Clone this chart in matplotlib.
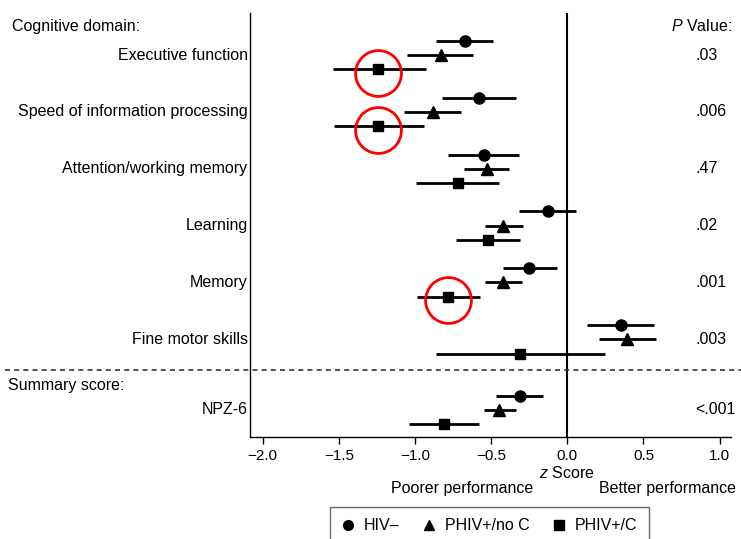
import numpy as np
import matplotlib.pyplot as plt
from matplotlib.lines import Line2D

plt.rcParams['font.family'] = ['Liberation Sans', 'DejaVu Sans']
plt.rcParams['mathtext.fontset'] = 'custom'
plt.rcParams['mathtext.it'] = 'Liberation Sans:italic'
plt.rcParams['mathtext.rm'] = 'Liberation Sans'

domains = ["Executive function", "Speed of information processing",
           "Attention/working memory", "Learning", "Memory",
           "Fine motor skills", "NPZ-6"]
p_values = [".03", ".006", ".47", ".02", ".001", ".003", "<.001"]

groups = ["HIV\u2013", "PHIV+/no C", "PHIV+/C"]
markers = ["o", "^", "s"]

hiv_neg = [-0.67, -0.58, -0.55, -0.13, -0.25, 0.35, -0.31]
hiv_neg_lo = [-0.86, -0.82, -0.78, -0.32, -0.42, 0.13, -0.47]
hiv_neg_hi = [-0.49, -0.335, -0.32, 0.06, -0.07, 0.57, -0.16]

phiv_noc = [-0.83, -0.88, -0.53, -0.42, -0.42, 0.39, -0.45]
phiv_noc_lo = [-1.05, -1.07, -0.68, -0.54, -0.54, 0.21, -0.55]
phiv_noc_hi = [-0.62, -0.70, -0.38, -0.29, -0.30, 0.58, -0.335]

phiv_c = [-1.24, -1.24, -0.72, -0.52, -0.78, -0.31, -0.81]
phiv_c_lo = [-1.54, -1.53, -0.99, -0.73, -0.985, -0.86, -1.04]
phiv_c_hi = [-0.93, -0.94, -0.45, -0.31, -0.575, 0.245, -0.58]

# rows highlighted with red circles (domain index, group index)
highlights = [(0, 2), (1, 2), (4, 2)]

est = [hiv_neg, phiv_noc, phiv_c]
lo = [hiv_neg_lo, phiv_noc_lo, phiv_c_lo]
hi = [hiv_neg_hi, phiv_noc_hi, phiv_c_hi]

FS = 11.5

fig = plt.figure(figsize=(7.41, 5.39), dpi=100)
ax = fig.add_axes([0.338, 0.19, 0.987 - 0.338, 0.976 - 0.19])

# group centres; summary score pushed down a bit
centres = np.arange(len(domains), dtype=float)
centres[-1] += 0.24
offsets = [-0.25, 0.0, 0.25]
msizes = [8, 8.5, 7.5]

for g in range(3):
    y = centres + offsets[g]
    ax.hlines(y, lo[g], hi[g], color='black', lw=2)
    ax.plot(est[g], y, linestyle='none', marker=markers[g], color='black',
            markersize=msizes[g])

for d, g in highlights:
    ax.plot(est[g][d], centres[d] + offsets[g] + 0.06, marker='o', markersize=33,
            markerfacecolor='none', markeredgecolor='red', markeredgewidth=2,
            linestyle='none')

ax.axvline(0, color='black', lw=1.5)

sep = (centres[-2] + centres[-1]) / 2 - 0.08
ax.axhline(sep, xmin=-0.51, xmax=1.03, color='#333333', lw=1.2,
           linestyle=(0, (3, 2.5)), clip_on=False)

ax.set_xlim(-2.08, 1.077)
ax.set_ylim(centres[-1] + 0.47, -0.74)
ticks = np.arange(-2.0, 1.01, 0.5)
ax.set_xticks(ticks)
ax.set_xticklabels([f"{v:.1f}".replace("-", "\u2212") for v in ticks])
ax.tick_params(axis='x', labelsize=11, length=5, width=1, pad=4)
ax.set_yticks([])
for s in ['top', 'right']:
    ax.spines[s].set_visible(False)
ax.spines['left'].set_linewidth(1)
ax.spines['bottom'].set_linewidth(1)

trans = ax.get_yaxis_transform()
for i, name in enumerate(domains):
    ax.text(-0.006, centres[i], name, transform=trans, ha='right',
            va='center', fontsize=FS)
    ax.text(0.842, centres[i], p_values[i], ha='left', va='center', fontsize=FS)

ax.text(-0.495, -0.51, "Cognitive domain:", transform=trans, ha='left',
        va='center', fontsize=FS)
ax.text(0.683, -0.51, "$P$ Value:", ha='left', va='center', fontsize=FS)
ax.text(-0.505, sep + 0.28, "Summary score:", transform=trans, ha='left',
        va='center', fontsize=FS)

fig.text(567 / 741, 1 - 473 / 539, "$z$ Score", ha='center', va='center', fontsize=FS)
fig.text(462 / 741, 1 - 489 / 539, "Poorer performance", ha='center', va='center',
         fontsize=FS)
fig.text(736 / 741, 1 - 489 / 539, "Better performance", ha='right', va='center',
         fontsize=FS)

handles = [Line2D([], [], linestyle='none', marker=markers[g], color='black',
                  markersize=7) for g in range(3)]
fig.legend(handles, groups, loc='upper left', bbox_to_anchor=(330 / 741, 1 - 507 / 539),
           ncol=3, frameon=True, fancybox=False, edgecolor='#444444',
           fontsize=FS, handlelength=0.8, handletextpad=0.6, columnspacing=1.45,
           borderpad=0.7, borderaxespad=0)

fig.savefig("out.png", dpi=100)
